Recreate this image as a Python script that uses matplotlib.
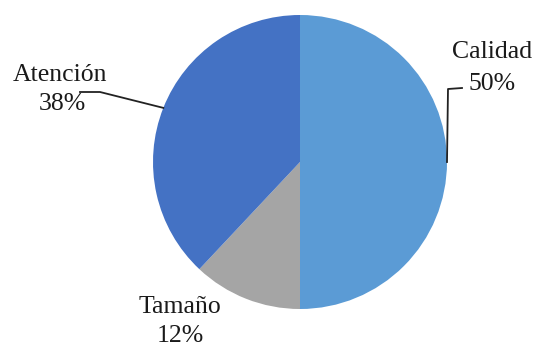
import numpy as np
import matplotlib.pyplot as plt

# Survey shares
labels = ['Calidad', 'Tamaño', 'Atención']
values = [50, 12, 38]
colors = ['#5B9BD5', '#A5A5A5', '#4472C4']

plt.rcParams['font.family'] = ['Liberation Serif', 'DejaVu Serif']

W, H = 535, 348
fig = plt.figure(figsize=(W / 100, H / 100), dpi=100, facecolor='white')
ax = fig.add_axes([0, 0, 1, 1])

cx, cy, r = 300, 162, 147
# y axis is flipped below, so start at -90 and run counterclockwise in data space
wedges, _ = ax.pie(values, colors=colors, startangle=-90, counterclock=True,
                   center=(cx, cy), radius=r, frame=True,
                   wedgeprops=dict(linewidth=0))
ax.set_xlim(0, W)
ax.set_ylim(H, 0)
ax.set_aspect('equal')
ax.axis('off')

fs = 18.5
tc = '#1a1a1a'


def edge_point(w):
    # point on the rim at the wedge's middle angle
    ang = np.deg2rad((w.theta1 + w.theta2) / 2)
    return cx + r * np.cos(ang), cy + r * np.sin(ang)


# Calidad: label top right, elbow leader
x0, y0 = edge_point(wedges[0])
ax.plot([x0, x0 + 1, x0 + 15], [y0, 89, 88], color='#222222', lw=1.3)
ax.text(492, 52, labels[0], ha='center', va='center', fontsize=fs, color=tc)
ax.text(492, 84, f'{values[0]}%', ha='center', va='center', fontsize=fs, color=tc)

# Atención: label left, leader to rim
x1, y1 = edge_point(wedges[2])
ax.plot([80, 100, x1], [92, 92, y1], color='#222222', lw=1.3)
ax.text(60, 75, labels[2], ha='center', va='center', fontsize=fs, color=tc)
ax.text(62, 104, f'{values[2]}%', ha='center', va='center', fontsize=fs, color=tc)

# Tamaño: label below, no leader
ax.text(180, 307, labels[1], ha='center', va='center', fontsize=fs, color=tc)
ax.text(180, 336, f'{values[1]}%', ha='center', va='center', fontsize=fs, color=tc)

fig.savefig('out.png', dpi=100, facecolor='white')
